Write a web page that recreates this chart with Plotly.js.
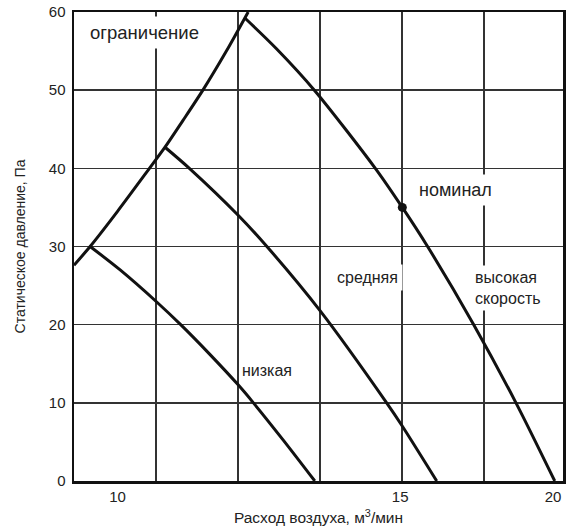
<!DOCTYPE html>
<html>
<head>
<meta charset="utf-8">
<script src="https://cdn.plot.ly/plotly-3.0.1.min.js"></script>
<style>html,body{margin:0;padding:0;background:#fff;}#chart{width:574px;height:531px;}</style>
</head>
<body>
<div id="chart"></div>
<script>
// Curve data (x: air flow, y: static pressure, Pa)
const limitX = [9.0, 9.37, 10.0, 10.72, 11.09, 11.5, 11.96, 12.5, 13.0];
const limitY = [27.6, 30.0, 34.5, 39.9, 42.7, 46.1, 50.0, 55.0, 60.0];
const lowX = [9.37, 10.06, 10.9, 11.45, 12.12, 12.77, 13.12, 13.81, 14.53];
const lowY = [30.0, 27.0, 22.9, 20.0, 16.2, 12.3, 10.0, 5.2, 0.0];
const midX = [11.09, 11.65, 12.77, 13.43, 14.65, 16.18, 16.53, 17.33];
const midY = [42.7, 40.0, 34.0, 30.0, 21.8, 10.0, 7.1, 0.0];
const highX = [12.93, 13.65, 14.52, 15.92, 16.54, 17.12, 18.18, 19.15, 20.04];
const highY = [59.2, 55.3, 50.0, 40.0, 35.0, 30.0, 20.0, 10.0, 0.0];
const nominalX = [16.54];
const nominalY = [35.0];
const gridX = [10.88, 12.77, 14.65, 16.53, 18.41];
const xTickVals = [10, 16.49, 20];
const xTickText = ['10', '15', '20'];
const yTickVals = [0, 10, 20, 30, 40, 50, 60];

const FONT = 'Liberation Sans, Arial, sans-serif';
const TXT = '#222';
function curve(x, y) {
  return {x: x, y: y, mode: 'lines', line: {color: '#111', width: 3, shape: 'spline', smoothing: 0.8}, hoverinfo: 'none'};
}
const traces = [
  curve(limitX, limitY),
  curve(lowX, lowY),
  curve(midX, midY),
  curve(highX, highY),
  {x: nominalX, y: nominalY, mode: 'markers', marker: {color: '#111', size: 9}, hoverinfo: 'none'},
  {x: [xTickVals[0]], y: [0], xaxis: 'x2', mode: 'markers', marker: {opacity: 0}, hoverinfo: 'none'}
];
const xr = [9, 20.23];
const layout = {
  width: 574, height: 531,
  margin: {l: 74, r: 11, t: 12, b: 50},
  paper_bgcolor: '#fff', plot_bgcolor: '#fff',
  showlegend: false,
  font: {family: FONT, color: TXT, size: 14},
  xaxis: {
    range: xr, tickvals: gridX, showticklabels: false, ticks: '',
    showgrid: true, gridcolor: '#333', gridwidth: 1.5, zeroline: false,
    showline: true, linecolor: '#111', linewidth: 2.5, mirror: true,
    title: {text: 'Расход воздуха, м<sup>3</sup>/мин', font: {size: 15.5, family: FONT, color: TXT}, standoff: 30}
  },
  xaxis2: {
    range: xr, overlaying: 'x', anchor: 'y', side: 'bottom',
    tickvals: xTickVals, ticktext: xTickText, showgrid: false, zeroline: false,
    ticks: 'outside', ticklen: 2, tickcolor: 'rgba(0,0,0,0)', showline: false,
    tickfont: {size: 15, family: FONT, color: TXT}
  },
  yaxis: {
    range: [0, 60], tickvals: yTickVals, showgrid: true, gridcolor: '#333', gridwidth: 1.5,
    zeroline: false, showline: true, linecolor: '#111', linewidth: 2.5, mirror: true,
    ticks: 'outside', ticklen: 3, tickcolor: 'rgba(0,0,0,0)',
    tickfont: {size: 15, family: FONT, color: TXT},
    title: {text: 'Статическое давление, Па', font: {size: 14, family: FONT, color: TXT}, standoff: 20}
  },
  annotations: [
    {x: 10.61, y: 57.4, text: 'ограничение', showarrow: false, font: {size: 18.5, family: FONT, color: TXT}, bgcolor: '#fff', borderpad: 5},
    {x: 17.77, y: 37.2, text: 'номинал', showarrow: false, font: {size: 18, family: FONT, color: TXT}, bgcolor: '#fff', borderpad: 5},
    {x: 15.73, y: 26.0, text: 'средняя', showarrow: false, font: {size: 16, family: FONT, color: TXT}, bgcolor: '#fff', borderpad: 4},
    {x: 18.97, y: 24.7, text: 'высокая<br>скорость', align: 'left', showarrow: false, font: {size: 16, family: FONT, color: TXT}, bgcolor: '#fff', borderpad: 3},
    {x: 13.43, y: 14.2, text: 'низкая', showarrow: false, font: {size: 16, family: FONT, color: TXT}}
  ]
};
Plotly.newPlot('chart', traces, layout, {staticPlot: true});
</script>
</body>
</html>
